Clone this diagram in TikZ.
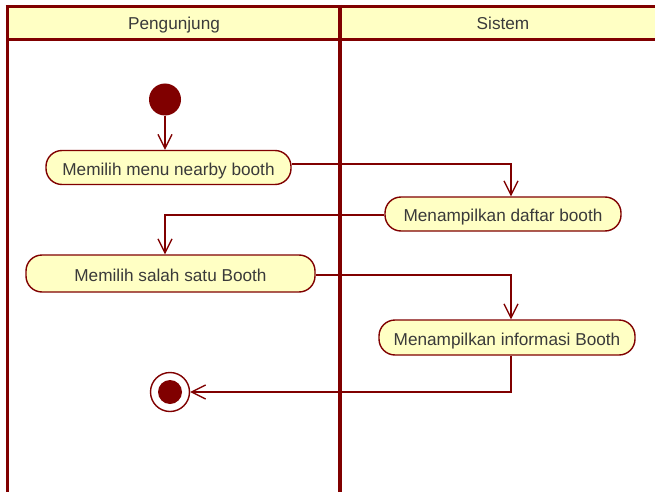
\documentclass[tikz,border=0pt]{standalone}
\usepackage{fontspec}
\setmainfont{Liberation Sans}
\usetikzlibrary{arrows.meta}
\definecolor{umlred}{HTML}{800000}
\definecolor{umlfill}{HTML}{FFFFC4}
\definecolor{umltext}{HTML}{3A3A3A}
\tikzset{
  activity/.style={draw=umlred, line width=1.4pt, fill=umlfill, text=umltext,
    rounded corners=16pt, inner sep=0pt, text height=15pt, text depth=0pt,
    font=\fontsize{17.2}{19}\selectfont},
  flow/.style={draw=umlred, line width=1.3pt,
    -{Straight Barb[length=14pt,width=14pt,line width=1.3pt]}},
  lane/.style={draw=umlred},
  lanetitle/.style={text=umltext, inner sep=0pt, text height=15pt, text depth=0pt,
    font=\fontsize{17.2}{19}\selectfont},
}
\begin{document}
\begin{tikzpicture}[x=1pt,y=-1pt]
  \useasboundingbox (0,0) rectangle (655,492);
  \fill[white] (0,0) rectangle (655,492);

  % swimlane headers
  \fill[umlfill] (7,8) rectangle (655,39);
  \draw[lane, line width=3pt] (5.5,6.5) -- (655,6.5);
  \draw[lane, line width=3pt] (7,39.5) -- (655,39.5);
  \draw[lane, line width=3pt] (7,5) -- (7,492);
  \draw[lane, line width=4.5pt] (340,5) -- (340,492);

  \node[lanetitle] (lane1) at (174,22.5) {Pengunjung};
  \node[lanetitle] (lane2) at (503,22.5) {Sistem};

  % initial and final states
  \node[circle, fill=umlred, minimum size=32pt, inner sep=0pt] (start) at (165,99.5) {};
  \node[circle, draw=umlred, line width=1.4pt, fill=white, minimum size=39pt, inner sep=0pt] (stop) at (170,392) {};
  \node[circle, fill=umlred, minimum size=24pt, inner sep=0pt] (stopdot) at (170,392) {};

  % activities
  \node[activity, minimum width=245pt, minimum height=34pt] (a1) at (168.5,167.5) {Memilih menu nearby booth};
  \node[activity, minimum width=236pt, minimum height=34pt] (a2) at (503,214) {Menampilkan daftar booth};
  \node[activity, minimum width=289pt, minimum height=37pt] (a3) at (170.5,273.5) {Memilih salah satu Booth};
  \node[activity, minimum width=256pt, minimum height=35pt] (a4) at (507,337.5) {Menampilkan informasi Booth};

  % control flows
  \draw[flow] (start) -- (start |- a1.north);
  \draw[flow] ([yshift=3.5pt]a1.east) -| ([xshift=8pt]a2.north);
  \draw[flow] ([yshift=-1pt]a2.west) -| ([xshift=-5.5pt]a3.north);
  \draw[flow] ([yshift=-1.5pt]a3.east) -| ([xshift=4pt]a4.north);
  \draw[flow] ([xshift=4pt]a4.south) |- (stop);
\end{tikzpicture}
\end{document}
